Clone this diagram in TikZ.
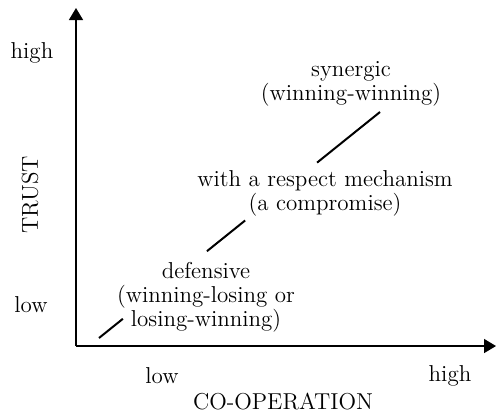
\documentclass[tikz,border=0pt]{standalone}
\usepackage{tikz}
\usetikzlibrary{positioning, arrows.meta, calc}

\tikzset{
    axis/.style={line width=0.75pt, -{Triangle[length=6pt, width=7pt]}},
    trend/.style={line width=1pt},
    lbl/.style={inner sep=0pt, align=center, font=\fontsize{11.5}{12}\selectfont}
}

\begin{document}
\begin{tikzpicture}[x=0.5pt, y=-0.5pt]
    \useasboundingbox (0,0) rectangle (496,414);
    % axes
    \coordinate (origin) at (76,346);
    \coordinate (ytip) at (76,8);
    \coordinate (xtip) at (496,346);
    \draw[axis] (origin) -- (ytip);
    \draw[axis] (origin) -- (xtip);
    % axis labels
    \node[lbl] (yhigh) at (32,53) {high};
    \node[lbl] (ylow) at (31,305) {low};
    \node[lbl, rotate=90] (trust) at (30,195) {TRUST};
    \node[lbl] (xlow) at (162,376) {low};
    \node[lbl] (xhigh) at (450,376) {high};
    \node[lbl] (coop) at (283,402) {CO-OPERATION};
    % strategies
    \node[lbl] (defensive) at (206,297) {defensive\\(winning-losing or\\losing-winning)};
    \node[lbl] (respect) at (325,193) {with a respect mechanism\\(a compromise)};
    \node[lbl] (synergic) at (351,84) {synergic\\(winning-winning)};
    % trend line, broken by the labels
    \coordinate (lo) at (99,338);
    \coordinate (hi) at (380,112);
    \draw[trend] (lo) -- ($(lo)!0.085!(hi)$)
        ($(lo)!0.384!(hi)$) -- ($(lo)!0.52!(hi)$)
        ($(lo)!0.776!(hi)$) -- (hi);
\end{tikzpicture}
\end{document}
